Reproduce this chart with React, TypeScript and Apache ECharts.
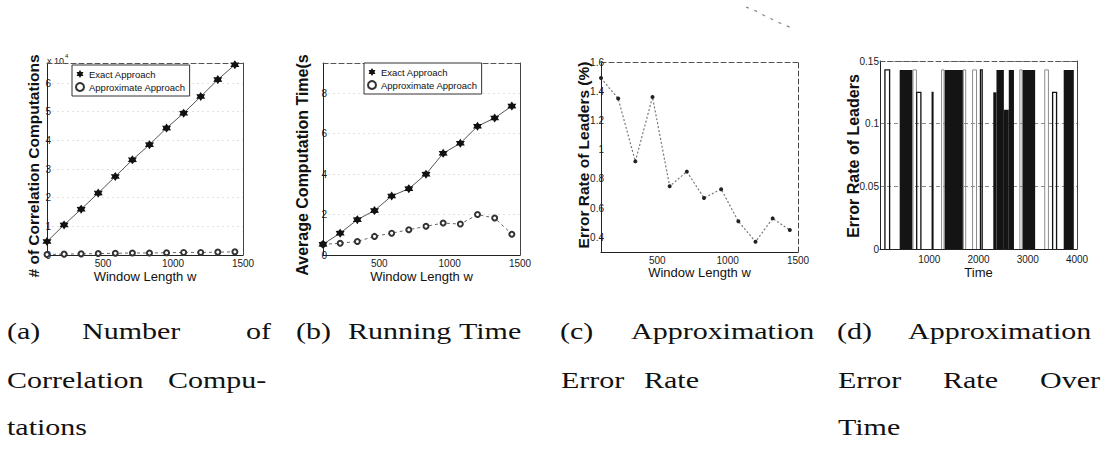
import React, { useEffect, useRef } from "react";
import * as echarts from "echarts";

// Window lengths w used in panels (a)-(c)
const windowLengths = [100, 222, 344, 466, 588, 710, 832, 954, 1076, 1198, 1320, 1442];
// (a) number of correlation computations, in units of 10^4
const exactComputations = [0.47, 1.05, 1.6, 2.16, 2.74, 3.32, 3.85, 4.43, 4.95, 5.53, 6.12, 6.64];
const approxComputations = [0.02, 0.03, 0.04, 0.05, 0.06, 0.07, 0.07, 0.08, 0.09, 0.09, 0.1, 0.11];
// (b) average computation time (s)
const exactTime = [0.53, 1.08, 1.75, 2.2, 2.92, 3.28, 4.0, 5.03, 5.53, 6.37, 6.78, 7.37];
const approxTime = [0.53, 0.58, 0.67, 0.92, 1.08, 1.25, 1.42, 1.58, 1.53, 2.0, 1.83, 1.03];
// (c) error rate of leaders (%)
const leaderErrorRate = [1.49, 1.35, 0.92, 1.36, 0.75, 0.85, 0.67, 0.73, 0.51, 0.37, 0.53, 0.45];
// (d) error rate over time: dense bursts [start, end, level]
const denseBursts = [
  [400, 660, 0.1429],
  [1310, 1690, 0.1429],
  [2300, 2365, 0.125],
  [2365, 2515, 0.1429],
  [2515, 2615, 0.1111],
  [2615, 2720, 0.1429],
  [2890, 3150, 0.1429],
  [3730, 3935, 0.1429],
];
// (d) isolated pulses [start, end, level]
const darkPulses = [
  [100, 195, 0.1429],
  [745, 830, 0.125],
  [1060, 1075, 0.125],
  [2040, 2075, 0.1429],
  [3505, 3585, 0.125],
];
const faintPulses = [
  [670, 740, 0.1429],
  [1250, 1300, 0.1429],
  [1690, 1740, 0.1429],
  [1880, 1960, 0.1429],
  [2840, 2885, 0.1429],
  [3345, 3420, 0.1429],
];

// Six-pointed filled star used for the exact-approach markers
const STAR =
  "path://M0,-10L3,-5.2L8.66,-5L6,0L8.66,5L3,5.2L0,10L-3,5.2L-8.66,5L-6,0L-8.66,-5L-3,-5.2Z";

const GRIDS = [
  { left: 47, top: 63, width: 196, height: 192 },
  { left: 323, top: 63, width: 197, height: 192 },
  { left: 601, top: 62, width: 197, height: 190 },
  { left: 880, top: 61, width: 197, height: 188 },
];

const SANS = "Liberation Sans";
const tickFont = { fontFamily: SANS, fontSize: 10, color: "#1a1a1a" };
const nameFont = { fontFamily: SANS, fontSize: 13, color: "#111" };

const isMultiple = (v: number, step: number) => {
  const r = v / step;
  return Math.abs(r - Math.round(r)) < 1e-6;
};

function windowAxis(gridIndex: number, nameGap: number) {
  return {
    type: "value",
    gridIndex,
    position: "bottom",
    min: 100,
    max: 1500,
    interval: 100,
    axisLine: { onZero: false, lineStyle: { color: "#222", width: 1 } },
    axisTick: { show: false },
    splitLine: { show: false },
    axisLabel: {
      ...tickFont,
      margin: 3,
      formatter: (v: number) => (isMultiple(v, 500) ? String(Math.round(v)) : ""),
    },
    name: "Window Length w",
    nameLocation: "middle",
    nameGap,
    nameTextStyle: nameFont,
  };
}

function borderX(gridIndex: number, dashed: boolean) {
  return {
    type: "value",
    gridIndex,
    position: "top",
    axisLine: { show: true, onZero: false, lineStyle: { color: "#555", width: 1, type: dashed ? [5, 3] : "solid" } },
    axisTick: { show: false },
    axisLabel: { show: false },
    splitLine: { show: false },
  };
}

function borderY(gridIndex: number, dashed: boolean) {
  return {
    type: "value",
    gridIndex,
    position: "right",
    axisLine: { show: true, onZero: false, lineStyle: { color: "#444", width: 1, type: dashed ? [5, 3] : "solid" } },
    axisTick: { show: false },
    axisLabel: { show: false },
    splitLine: { show: false },
  };
}

function leftAxis(
  gridIndex: number,
  min: number,
  max: number,
  interval: number,
  margin: number,
  formatter: (v: number) => string,
  split: any
) {
  return {
    type: "value",
    gridIndex,
    position: "left",
    min,
    max,
    interval,
    axisLine: { show: true, onZero: false, lineStyle: { color: "#222", width: 1 } },
    axisTick: { show: false },
    axisLabel: { ...tickFont, margin, formatter },
    splitLine: split,
  };
}

const legendBase = {
  orient: "vertical",
  padding: [4, 4, 4, 3],
  itemGap: 3,
  itemWidth: 8,
  itemHeight: 8,
  borderColor: "#333",
  borderWidth: 1,
  backgroundColor: "#fff",
  selectedMode: false,
  textStyle: { fontFamily: SANS, fontSize: 9.5, color: "#111" },
  data: [
    { name: "Exact Approach", icon: STAR },
    { name: "Approximate Approach", icon: "emptyCircle" },
  ],
};

const pair = (xs: number[], ys: number[]) => xs.map((x, i) => [x, ys[i]]);

function exactSeries(i: number, ys: number[]) {
  return {
    name: "Exact Approach",
    type: "line",
    xAxisIndex: i,
    yAxisIndex: i,
    data: pair(windowLengths, ys),
    symbol: STAR,
    symbolSize: 9,
    itemStyle: { color: "#111" },
    lineStyle: { color: "#555", width: 1 },
    z: 4,
  };
}

function approxSeries(i: number, ys: number[]) {
  return {
    name: "Approximate Approach",
    type: "line",
    xAxisIndex: i,
    yAxisIndex: i,
    data: pair(windowLengths, ys),
    symbol: "emptyCircle",
    symbolSize: 5,
    itemStyle: { color: "#333", borderWidth: 1.2 },
    lineStyle: { color: "#666", width: 1, type: [3, 3] },
    z: 3,
  };
}

function pulseSeries(data: number[][], stroke: string, width: number) {
  return {
    type: "custom",
    xAxisIndex: 3,
    yAxisIndex: 3,
    data,
    encode: { x: [0, 1], y: 2 },
    clip: true,
    renderItem: (_p: any, api: any) => {
      const a = api.coord([api.value(0), 0]);
      const b = api.coord([api.value(0), api.value(2)]);
      const c = api.coord([api.value(1), api.value(2)]);
      const d = api.coord([api.value(1), 0]);
      return {
        type: "polyline",
        shape: { points: [a, b, c, d] },
        style: { stroke, lineWidth: width, fill: null },
      };
    },
  };
}

// Rotated y-axis titles: [text, centre x, centre y, font size]
const yNames: [string, number, number, number][] = [
  ["# of Correlation Computations", 33.5, 166, 15.5],
  ["Average Computation Time(s", 302, 165, 16],
  ["Error Rate of Leaders (%)", 583, 155, 15.5],
  ["Error Rate of Leaders", 853, 156, 16],
];

// Caption words: [text, left x, line]
const captionWords: [string, number, number][] = [
  ["(a)", 7, 0], ["Number", 82, 0], ["of", 246, 0],
  ["Correlation", 7, 1], ["Compu-", 168, 1],
  ["tations", 7, 2],
  ["(b)", 296, 0], ["Running", 348, 0], ["Time", 459, 0],
  ["(c)", 560, 0], ["Approximation", 631, 0],
  ["Error", 561, 1], ["Rate", 644, 1],
  ["(d)", 837, 0], ["Approximation", 908, 0],
  ["Error", 838, 1], ["Rate", 943, 1], ["Over", 1040, 1],
  ["Time", 838, 2],
];
const captionLineY = [331, 380, 427];

function buildOption() {
  const graphic: any[] = [];
  yNames.forEach(([text, x, y, size]) => {
    graphic.push({
      type: "text",
      x,
      y,
      rotation: Math.PI / 2,
      style: { text, fontFamily: SANS, fontWeight: "bold", fontSize: size, fill: "#111", align: "center", verticalAlign: "middle" },
    });
  });
  captionWords.forEach(([text, x, line]) => {
    graphic.push({
      type: "text",
      x,
      y: captionLineY[line],
      scaleX: 1.25,
      style: { text, fontFamily: "Liberation Serif", fontSize: 24, fill: "#111", align: "left", verticalAlign: "middle" },
    });
  });
  graphic.push(
    { type: "text", x: 47, y: 56, style: { text: "x 10", fontFamily: SANS, fontSize: 9, fill: "#222" } },
    { type: "text", x: 65, y: 53, style: { text: "4", fontFamily: SANS, fontSize: 6, fill: "#222" } },
    {
      type: "polyline",
      shape: { points: [[746, 7], [756, 11], [765, 16], [780, 23], [794, 29]] },
      style: { stroke: "#888", lineWidth: 1.3, lineDash: [3, 6], fill: null },
    }
  );

  const lightGrid = { show: true, lineStyle: { color: "#e2e2e2", type: [2, 3], width: 1 } };

  return {
    animation: false,
    backgroundColor: "#fff",
    grid: GRIDS,
    legend: [
      { ...legendBase, left: 72, top: 65 },
      { ...legendBase, left: 364, top: 63 },
    ],
    xAxis: [
      windowAxis(0, 15),
      windowAxis(1, 15),
      windowAxis(2, 13),
      {
        type: "value",
        gridIndex: 3,
        position: "bottom",
        min: 0,
        max: 4000,
        interval: 1000,
        axisLine: { onZero: false, lineStyle: { color: "#222", width: 1 } },
        axisTick: { show: false },
        splitLine: { show: false },
        axisLabel: { ...tickFont, margin: 5, formatter: (v: number) => (v === 0 ? "" : String(v)) },
        name: "Time",
        nameLocation: "middle",
        nameGap: 17,
        nameTextStyle: nameFont,
      },
      borderX(0, true),
      borderX(1, true),
      borderX(2, true),
      borderX(3, true),
    ],
    yAxis: [
      leftAxis(0, 0, 6.7, 1, -4, (v) => (isMultiple(v, 1) ? String(Math.round(v)) : ""), lightGrid),
      leftAxis(1, 0, 9.5, 2, -4, (v) => (isMultiple(v, 2) ? String(Math.round(v)) : ""), lightGrid),
      leftAxis(
        2,
        0.3,
        1.6,
        0.1,
        -3,
        (v) => {
          const k = Math.round(v * 10);
          return k % 2 === 0 && k >= 4 ? String(k / 10) : "";
        },
        { show: false }
      ),
      leftAxis(
        3,
        0,
        0.15,
        0.05,
        1,
        (v) => String(Math.round(v * 100) / 100),
        { show: true, lineStyle: { color: "#8a8a8a", type: [4, 3], width: 1 } }
      ),
      borderY(0, false),
      borderY(1, false),
      borderY(2, true),
      borderY(3, false),
    ],
    series: [
      exactSeries(0, exactComputations),
      approxSeries(0, approxComputations),
      exactSeries(1, exactTime),
      approxSeries(1, approxTime),
      {
        name: "Error Rate of Leaders",
        type: "line",
        xAxisIndex: 2,
        yAxisIndex: 2,
        data: pair(windowLengths, leaderErrorRate),
        symbol: "circle",
        symbolSize: 4,
        itemStyle: { color: "#222" },
        lineStyle: { color: "#777", width: 1.2, type: [2, 2] },
      },
      {
        type: "custom",
        xAxisIndex: 3,
        yAxisIndex: 3,
        data: denseBursts,
        encode: { x: [0, 1], y: 2 },
        clip: true,
        renderItem: (_p: any, api: any) => {
          const p0 = api.coord([api.value(0), api.value(2)]);
          const p1 = api.coord([api.value(1), 0]);
          return {
            type: "rect",
            shape: { x: p0[0], y: p0[1], width: p1[0] - p0[0], height: p1[1] - p0[1] },
            style: { fill: "#141414" },
          };
        },
      },
      pulseSeries(faintPulses, "#8c8c8c", 1),
      pulseSeries(darkPulses, "#111", 1.3),
    ],
    graphic,
  };
}

export default function App() {
  const ref = useRef<HTMLDivElement>(null);
  useEffect(() => {
    if (!ref.current) return;
    const chart = echarts.init(ref.current, null, { renderer: "svg" });
    chart.setOption(buildOption() as any);
    return () => chart.dispose();
  }, []);
  return (
    <div
      ref={ref}
      style={{ position: "fixed", left: 0, top: 0, width: 1104, height: 463, background: "#fff" }}
    />
  );
}
